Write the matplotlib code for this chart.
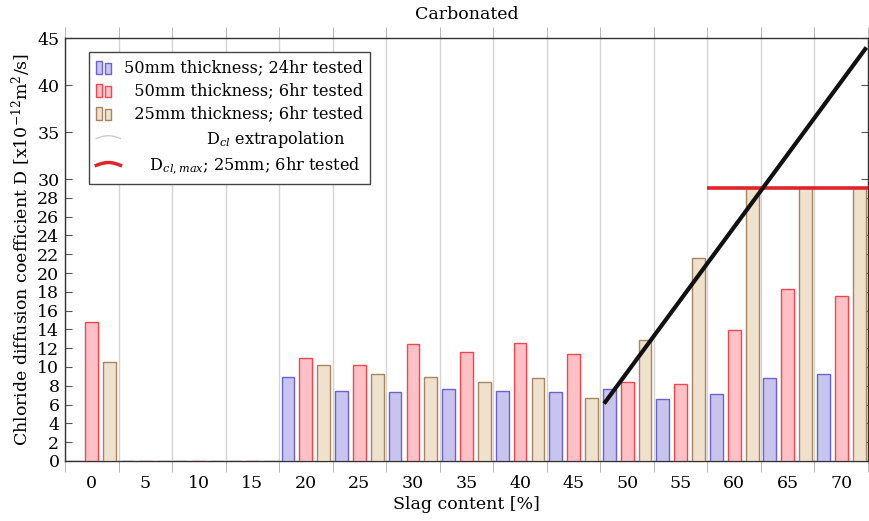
import numpy as np
import matplotlib
matplotlib.use("Agg")
import matplotlib.pyplot as plt
from matplotlib.patches import Rectangle
from matplotlib.lines import Line2D
from matplotlib.legend_handler import HandlerBase

# data
slag = [0, 5, 10, 15, 20, 25, 30, 35, 40, 45, 50, 55, 60, 65, 70]
d50_24h = [0, 0, 0, 0, 8.9, 7.4, 7.3, 7.7, 7.4, 7.3, 7.7, 6.6, 7.1, 8.8, 9.3]
d50_6h = [14.8, 0, 0, 0, 11.0, 10.2, 12.4, 11.6, 12.5, 11.4, 8.4, 8.2, 13.9, 18.3, 17.6]
d25_6h = [10.5, 0, 0, 0, 10.2, 9.3, 8.9, 8.4, 8.8, 6.7, 12.9, 21.6, 29.0, 29.0, 29.0]
dcl_max = 29.0
dcl_max_range = [11.5, 14.5]          # from 55/60 boundary to right edge
extrap_x = [9.57, 14.47]
extrap_y = [6.1, 44.0]
yticks = [0, 2, 4, 6, 8, 10, 12, 14, 16, 18, 20, 22, 24, 26, 28, 30, 35, 40, 45]

plt.rcParams['font.family'] = ['DejaVu Serif']
plt.rcParams['mathtext.fontset'] = 'dejavuserif'
fs = 12.5

blue_fc, blue_ec = '#c9c4ee', '#6a62d0'
red_fc, red_ec = '#ffc0c6', '#f0474f'
tan_fc, tan_ec = '#f0e1cd', '#a58562'

fig = plt.figure(figsize=(8.7, 5.21), dpi=100)
ax = fig.add_axes([0.0747, 0.1152, 0.923, 0.8118])

x = np.arange(len(slag))
w = 0.24
off = 0.335
ax.bar(x - off, d50_24h, w, color=blue_fc, edgecolor=blue_ec, lw=1.0, zorder=3)
ax.bar(x, d50_6h, w, color=red_fc, edgecolor=red_ec, lw=1.0, zorder=3)
ax.bar(x + off, d25_6h, w, color=tan_fc, edgecolor=tan_ec, lw=1.0, zorder=3)

ax.plot(dcl_max_range, [dcl_max, dcl_max], color='#e3232a', lw=2.6, zorder=4,
        solid_capstyle='butt')
ax.plot(extrap_x, extrap_y, color='#111111', lw=3, zorder=5, solid_capstyle='butt')

ax.set_xlim(-0.5, len(slag) - 0.5)
ax.set_ylim(0, 45)
ax.set_xticks(x)
ax.set_xticklabels([str(s) for s in slag], fontsize=fs)
ax.set_xticks(np.arange(-0.5, len(slag)), minor=True)
ax.tick_params(axis='x', which='major', length=0, pad=10)
ax.tick_params(axis='x', which='minor', length=8, color='#aaaaaa', direction='out',
               top=True, bottom=True)
ax.grid(True, axis='x', which='minor', color='#d4d4d4', lw=1.0, zorder=0)
ax.set_yticks(yticks)
ax.set_yticklabels([str(t) for t in yticks], fontsize=fs)
ax.tick_params(axis='y', direction='in', length=5, left=True, right=True,
               color='#555555', pad=4)
for s in ax.spines.values():
    s.set_color('#333333')
    s.set_linewidth(1.0)

ax.set_title('Carbonated', fontsize=12.5, pad=14)
ax.set_xlabel('Slag content [%]', fontsize=fs, labelpad=3)
ax.set_ylabel(r'Chloride diffusion coefficient D [x10$^{-12}$m$^{2}$/s]',
              fontsize=fs, labelpad=3)


class BarPair(HandlerBase):
    def __init__(self, fc, ec):
        super().__init__()
        self.fc, self.ec = fc, ec

    def create_artists(self, legend, orig, xd, yd, width, height, fontsize, trans):
        r1 = Rectangle((-xd, -yd - 1), width * 0.33, height * 1.15, fc=self.fc, ec=self.ec,
                       lw=1, transform=trans)
        r2 = Rectangle((-xd + width * 0.45, -yd - 1), width * 0.33, height * 0.95,
                       fc=self.fc, ec=self.ec, lw=1, transform=trans)
        return [r1, r2]


class Curve(HandlerBase):
    def __init__(self, color, lw):
        super().__init__()
        self.color, self.lw = color, lw

    def create_artists(self, legend, orig, xd, yd, width, height, fontsize, trans):
        t = np.linspace(0, 1, 12)
        xs = -xd + t * width * 1.3
        ys = -yd + height * (0.45 + 0.25 * np.sin(np.pi * t))
        return [Line2D(xs, ys, color=self.color, lw=self.lw, transform=trans)]


h1, h2, h3 = Rectangle((0, 0), 1, 1), Rectangle((0, 0), 1, 1), Rectangle((0, 0), 1, 1)
h4, h5 = Line2D([], []), Line2D([], [])
labels = ['50mm thickness; 24hr tested',
          '  50mm thickness; 6hr tested',
          '  25mm thickness; 6hr tested',
          r'                D$_{cl}$ extrapolation',
          r'     D$_{cl,max}$; 25mm; 6hr tested']
leg = ax.legend([h1, h2, h3, h4, h5], labels,
                handler_map={h1: BarPair(blue_fc, blue_ec), h2: BarPair(red_fc, red_ec),
                             h3: BarPair(tan_fc, tan_ec), h4: Curve('#cccccc', 1.0),
                             h5: Curve('#e3232a', 2.5)},
                loc='upper left', bbox_to_anchor=(0.03, 0.967), fontsize=11.6,
                handlelength=1.15, handletextpad=0.55, labelspacing=0.38,
                borderpad=0.45, borderaxespad=0, fancybox=False, framealpha=1,
                edgecolor='#444444')
leg.get_frame().set_linewidth(1.0)
leg.set_zorder(10)

fig.savefig('out.png', dpi=100)
